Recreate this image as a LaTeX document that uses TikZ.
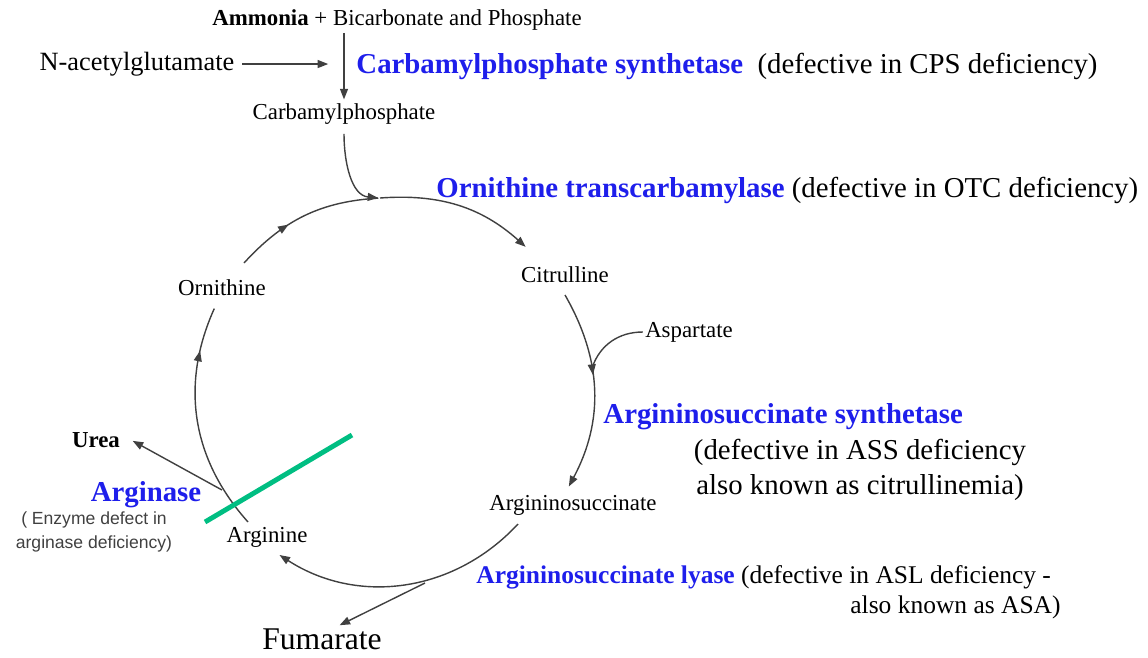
\documentclass[tikz,border=0pt]{standalone}
\usepackage{fontspec}
\setmainfont{Liberation Serif}
\setsansfont{Liberation Sans}
\usepackage{tikz}
\usetikzlibrary{arrows.meta,calc,decorations.markings}
\definecolor{enzblue}{RGB}{30,30,235}
\definecolor{cutgreen}{RGB}{0,190,130}
\tikzset{midarrow/.style={postaction={decorate,decoration={markings,mark=at position #1 with {\arrow{>}}}}}}

\begin{document}
\begin{tikzpicture}[x=0.02cm,y=-0.02cm,->,>={Triangle[length=6pt,width=4.5pt]},shorten >=1pt,
                    line width=0.8pt,draw=black!75]
  \tikzstyle{metab}=[inner sep=1pt,text=black,font=\fontsize{13}{15}\selectfont]
  \tikzstyle{enzyme}=[inner sep=1pt,anchor=west,text=black,font=\fontsize{16.4}{20}\selectfont]
  \useasboundingbox (0,0) rectangle (1148,657);

  \node[metab] (nh3)                 at (397,20)  {\textbf{Ammonia} + Bicarbonate and Phosphate};
  \node[metab,font=\fontsize{15}{18}\selectfont] (nag) at (137,64) {N-acetylglutamate};
  \node[enzyme] (cps)                at (354,66)  {\textcolor{enzblue}{\bfseries Carbamylphosphate synthetase}\ \ (defective in CPS deficiency)};
  \node[metab] (cp)                  at (344,114) {Carbamylphosphate};
  \node[enzyme] (otc)                at (434,190) {\textcolor{enzblue}{\bfseries Ornithine transcarbamylase} (defective in OTC deficiency)};
  \node[metab] (cit)                 at (565,275) {Citrulline};
  \node[metab] (orn)                 at (222,288) {Ornithine};
  \node[metab] (asp)                 at (689,332) {Aspartate};
  \node[enzyme] (ass)                at (601,417) {\textcolor{enzblue}{\bfseries Argininosuccinate synthetase}};
  \node[enzyme,anchor=center,align=center] (assdef) at (860,470) {(defective in ASS deficiency\\ also known as citrullinemia)};
  \node[metab] (asa)                 at (573,505) {Argininosuccinate};
  \node[enzyme,font=\fontsize{14.5}{18}\selectfont] (asl) at (474,577) {\textcolor{enzblue}{\bfseries Argininosuccinate lyase} (defective in ASL deficiency -};
  \node[enzyme,anchor=east,font=\fontsize{14.5}{18}\selectfont] (asldef) at (1063,607) {also known as ASA)};
  \node[metab] (arg)                 at (267,537) {Arginine};
  \node[metab,font=\bfseries\fontsize{13}{15}\selectfont] (urea) at (96,440) {Urea};
  \node[enzyme,anchor=center] (arginase) at (146,495) {\textcolor{enzblue}{\bfseries Arginase}};
  \node[inner sep=1pt,text=black!75,align=center,font=\sffamily\fontsize{10}{14}\selectfont] (argdef) at (94,532) {( Enzyme defect in\\arginase deficiency)};
  \node[metab,font=\fontsize{18}{20}\selectfont] (fum) at (322,639) {Fumarate};

  % points on the cycle
  \coordinate (jtop)   at (380,198);
  \coordinate (orn1)   at (244,263);
  \coordinate (cit0)   at (527,248);
  \coordinate (cit1)   at (565,295);
  \coordinate (asa0)   at (568,488);
  \coordinate (asa1)   at (518,524);
  \coordinate (arg0)   at (278,554);
  \coordinate (arg1)   at (248,522);
  \coordinate (orn0)   at (215,307);
  \coordinate (jasp)   at (592,368);
  \coordinate (jfum)   at (425,583);
  \coordinate (fumtip) at (338,626);
  \coordinate (jurea)  at (222,490);
  \coordinate (nagend) at (330,68);
  \coordinate (cut0)   at (205,522);
  \coordinate (cut1)   at (352,435);

  \draw (nh3.south -| cp.north) -- (cp.north);
  \draw ([xshift=3pt]nag.east) -- (nag.east -| nagend);
  \draw ([yshift=-4pt]cp.south) to[out=-90,in=175] (jtop);

  \draw[-,midarrow=0.38] (orn1) to[bend left=22] (jtop);
  \draw                  (jtop) to[bend left=23] (cit0);
  \draw[midarrow=0.42]   (cit1) to[bend left=29] (asa0);
  \draw[-]               (asp.west) to[out=180,in=70] (jasp);
  \draw                  (asa1) to[bend left=40] (arg0);
  \draw                  (jfum) -- (fumtip);
  \draw[-,midarrow=0.8]  (arg1) to[bend left=33] (orn0);
  \draw                  (jurea) -- ([xshift=5pt]urea.east);

  \draw[-,cutgreen,line width=2.8pt,shorten >=0pt] (cut0) -- (cut1);
\end{tikzpicture}
\end{document}
